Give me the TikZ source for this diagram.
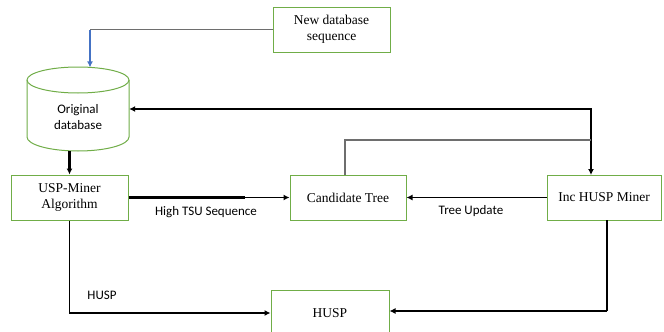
\documentclass[tikz,border=0pt]{standalone}
\usepackage{fontspec}
\setmainfont{Liberation Serif}
\newfontfamily\labelfont{Carlito}
\usetikzlibrary{arrows.meta,calc}
\definecolor{boxgreen}{RGB}{112,173,71}
\definecolor{linkblue}{RGB}{68,114,196}
\definecolor{linkgrey}{RGB}{110,110,110}
\begin{document}
\begin{tikzpicture}[x=1pt,y=-1pt,
  procbox/.style={draw=boxgreen, line width=1pt, minimum height=45pt, inner sep=0pt,
    align=center, font=\fontsize{13.5}{16.5}\selectfont},
  lbl/.style={font=\labelfont\fontsize{13}{15.5}\selectfont, align=center, inner sep=0pt},
  flow/.style={line width=1.3pt, -{Latex[length=6pt,width=6pt]}},
  heavy/.style={line width=2.2pt, -{Latex[length=6pt,width=6pt]}},
  plainline/.style={line width=1.2pt},
  thinlink/.style={line width=1.1pt, draw=linkgrey}]
\useasboundingbox[fill=white] (0,0) rectangle (664,332);

% process boxes
\node[procbox, minimum width=117pt] (new)  at (331.5,29.5) {New database\\sequence};
\node[procbox, minimum width=117pt] (usp)  at (69.5,197.5) {USP-Miner\\Algorithm};
\node[procbox, minimum width=116pt] (cand) at (348,197.5) {Candidate Tree};
\node[procbox, minimum width=114pt] (inc)  at (604,197.5) {Inc HUSP Miner};
\node[procbox, minimum width=118pt, minimum height=46pt] (husp) at (330,313) {HUSP};

% database cylinder
\node[minimum width=102pt, minimum height=84pt, inner sep=0pt] (db) at (78,109) {};
\draw[boxgreen, line width=1pt] (78,80) ellipse [x radius=51, y radius=13];
\draw[boxgreen, line width=1pt] (27,80) -- (27,137)
  arc[start angle=180, end angle=0, x radius=51, y radius=14] -- (129,80);
\node[lbl] (dbtext) at (78,117) {Original\\database};

% connector bends and junctions
\coordinate (dbin)   at (90,67.4);
\coordinate (incin)  at (591,175);
\coordinate (jn)     at (591,140);
\coordinate (candup) at (345,175);
\coordinate (incout) at (607,220);
\coordinate (incbend) at (607,311);
\coordinate (uspstep) at (245,197.5);

% new sequences fed into the database
\draw[thinlink] (new.west) -- (new.west -| dbin);
\draw[flow, linkblue] (new.west -| dbin) -- (dbin);

% database <-> incremental miner
\draw[heavy, {Latex[length=6pt,width=6pt]}-{Latex[length=6pt,width=6pt]}]
  (db.east) -- (db.east -| incin) -- (incin);
\draw[thinlink] (candup) |- (jn);

% mining flow
\draw[heavy] (db.south -| usp.north) -- (usp.north);
\draw[line width=2.2pt] (usp.east) -- (uspstep);
\draw[flow] (uspstep) -- (cand.west);
\node[lbl] (lhigh) at (206,212) {High TSU Sequence};

\draw[flow] (inc.west) -- (cand.east);
\node[lbl] (lupd) at (471,211) {Tree Update};

\draw[flow] (usp.south) |- (husp.west);
\node[lbl] (lhusp) at (102,295) {HUSP};

\draw[plainline] (incout) -- (incbend);
\draw[heavy] (incbend) -- (incbend -| husp.east);
\end{tikzpicture}
\end{document}
